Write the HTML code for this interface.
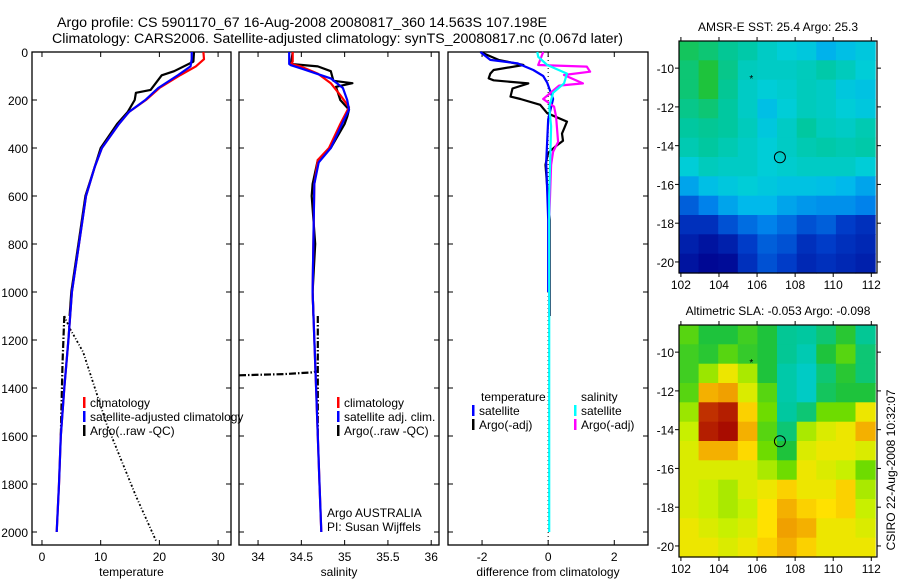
<!DOCTYPE html>
<html><head><meta charset="utf-8"><style>
body{margin:0;background:#fff;width:900px;height:580px;overflow:hidden}
svg{display:block;font-family:"Liberation Sans",sans-serif}
</style></head><body>
<svg id="c" width="900" height="580" viewBox="0 0 900 580">
<text x="57" y="27" font-size="13.5" textLength="490" lengthAdjust="spacingAndGlyphs">Argo profile: CS 5901170_67 16-Aug-2008 20080817_360 14.563S 107.198E</text>
<text x="52" y="43" font-size="13.5" textLength="571" lengthAdjust="spacingAndGlyphs">Climatology: CARS2006. Satellite-adjusted climatology: synTS_20080817.nc (0.067d later)</text>
</svg>
<script>
// ---- data ----
const tDepth=[0,30,60,96,150,200,250,300,400,478,600,800,1000,1200,1400,1600,1800,2000];
const tClim=[27.5,27.6,26.2,23.6,20,17.7,14.8,13.1,10.2,9.0,7.5,6.3,5.1,4.5,3.8,3.2,2.9,2.5];
const tSat=[25.5,25.5,25.3,23.2,19.8,17.6,14.8,13.1,10.2,9.0,7.5,6.3,5.1,4.5,3.8,3.2,2.9,2.5];
const tArgoDepth=[0,40,80,97,158,170,200,250,300,400,478,600,800,1000,1100];
const tArgo=[25.9,25.8,22.5,20.4,18.5,16,15.8,14.6,12.8,10.0,9.0,7.4,6.2,5.0,4.7];
const tRawDepth=[1100,1300,1600];
const tRaw=[3.8,3.5,3.2];
const tRaw2Depth=[1100,1150,1250,1550,1850,2040];
const tRaw2=[3.8,4.7,7,11,16,19.5];

const sDepth=[0,40,50,60,90,130,180,230,300,400,450,550,1000,1400,1800,2000];
const sClim=[34.40,34.40,34.38,34.49,34.69,34.84,34.95,35.05,34.95,34.82,34.69,34.65,34.63,34.67,34.71,34.73];
const sSatDepth=[0,50,55,70,110,150,200,240,300,400,460,550,1000,1400,1800,2000];
const sSat=[34.36,34.36,34.38,34.51,34.84,34.98,35.03,35.05,34.97,34.84,34.70,34.65,34.63,34.67,34.71,34.73];
const sArgoDepth=[0,50,60,80,120,130,145,200,220,240,270,300,350,400,450,550,600,800,1000,1100];
const sArgo=[34.40,34.38,34.69,34.84,34.87,35.09,34.90,34.95,35.0,35.05,35.03,35.0,34.92,34.84,34.69,34.63,34.62,34.66,34.63,34.64];
const sRawDepth=[1100,1600];
const sRaw=[34.69,34.69];
const sRaw2Depth=[1347,1342,1335,1330];
const sRaw2=[33.78,34.3,34.62,34.69];

const dTSatDepth=[0,33,47,75,100,128,196,280,460,700,1000];
const dTSat=[-2.05,-1.75,-0.93,-0.45,-0.15,-0.03,0.15,0,-0.06,0,0];
const dTArgoDepth=[0,33,54,75,90,110,118,131,152,186,196,220,255,290,340,370,395,420,470,700,1100];
const dTArgo=[-2.05,-1.5,-0.75,-1.65,-1.75,-1.8,-1.65,-0.6,-1.08,-1.14,-0.84,-0.24,-0.03,0.57,0.42,0.45,0.21,0,-0.08,0.05,0.05];
const dSSatDepth=[0,20,54,90,131,170,228,310,600,2000];
const dSSat=[-0.33,-0.3,-0.03,0.57,0.48,0.15,0.03,0.09,0.03,0.03];
const dSArgoDepth=[0,54,61,82,96,131,140,196,228,270,375,416,470,700,1100];
const dSArgo=[-0.15,-0.3,1.17,1.27,0.48,1.05,0.33,-0.15,0.18,0.24,0.3,0.15,0.09,0.03,0.03];

const depthTicks=[0,200,400,600,800,1000,1200,1400,1600,1800,2000];
const tTicks=[0,10,20,30];
const sTicks=[34,34.5,35,35.5,36];
const dTicks=[-2,0,2];
const lonTicks=[102,104,106,108,110,112];
const latTicks=[-10,-12,-14,-16,-18,-20];

const sstGrid=[
[0.52,0.5,0.47,0.45,0.42,0.4,0.38,0.32,0.35,0.38],
[0.5,0.55,0.48,0.43,0.42,0.42,0.43,0.45,0.43,0.40],
[0.5,0.55,0.47,0.42,0.4,0.41,0.43,0.42,0.38,0.36],
[0.48,0.5,0.46,0.42,0.35,0.4,0.43,0.42,0.4,0.38],
[0.46,0.47,0.46,0.43,0.38,0.42,0.46,0.43,0.42,0.44],
[0.44,0.46,0.44,0.42,0.4,0.42,0.44,0.45,0.44,0.45],
[0.4,0.43,0.42,0.42,0.4,0.41,0.42,0.42,0.42,0.4],
[0.3,0.35,0.38,0.4,0.38,0.36,0.36,0.35,0.33,0.3],
[0.2,0.25,0.3,0.33,0.33,0.3,0.28,0.27,0.27,0.25],
[0.12,0.12,0.18,0.22,0.25,0.22,0.18,0.2,0.15,0.12],
[0.08,0.05,0.08,0.15,0.2,0.18,0.12,0.15,0.12,0.1],
[0.05,0.02,0.03,0.12,0.18,0.15,0.1,0.12,0.1,0.08]];
const slaGrid=[
[0.6,0.55,0.55,0.58,0.55,0.47,0.46,0.5,0.56,0.47],
[0.58,0.56,0.6,0.57,0.55,0.47,0.44,0.55,0.6,0.5],
[0.58,0.65,0.72,0.66,0.55,0.45,0.42,0.5,0.56,0.5],
[0.6,0.8,0.82,0.7,0.6,0.45,0.42,0.52,0.55,0.55],
[0.65,0.92,0.95,0.76,0.62,0.46,0.5,0.62,0.62,0.72],
[0.68,0.95,0.98,0.8,0.6,0.5,0.66,0.7,0.72,0.8],
[0.7,0.8,0.8,0.75,0.62,0.55,0.7,0.72,0.72,0.7],
[0.7,0.7,0.7,0.7,0.66,0.62,0.72,0.7,0.68,0.62],
[0.7,0.68,0.66,0.7,0.72,0.76,0.72,0.72,0.76,0.66],
[0.7,0.68,0.66,0.68,0.74,0.8,0.76,0.74,0.76,0.68],
[0.72,0.7,0.68,0.7,0.74,0.82,0.8,0.72,0.72,0.7],
[0.72,0.72,0.7,0.72,0.76,0.8,0.76,0.72,0.72,0.72]];
const argoLon=107.2, argoLat=-14.6, prevLon=105.7, prevLat=-10.5;

// ---- drawing ----
const svg=document.getElementById('c');
const NS='http://www.w3.org/2000/svg';
function mk(tag,attrs,parent){const e=document.createElementNS(NS,tag);for(const k in attrs)e.setAttribute(k,attrs[k]);(parent||svg).appendChild(e);return e;}
function txt(x,y,s,attrs,name){const e=mk('text',Object.assign({x:x,y:y,'font-size':12},attrs||{}));e.textContent=s;


return e;}

const Y0=52, PY=0.24, YB=545;
const yD=d=>Y0+d*PY;
function panel(name,x0,x1,vmin,vmax,ticks,fmt,xlabel){
  const sx=v=>x0+(v-vmin)/(vmax-vmin)*(x1-x0);
  const g=mk('g',{});
  
  
  const r=mk('rect',{x:x0,y:Y0,width:x1-x0,height:YB-Y0,fill:'none',stroke:'#000','stroke-width':1.3},g);
  
  
  depthTicks.forEach(d=>{
    mk('line',{x1:x0,x2:x0+5,y1:yD(d),y2:yD(d),stroke:'#000'},g);
    mk('line',{x1:x1-5,x2:x1,y1:yD(d),y2:yD(d),stroke:'#000'},g);
  });
  ticks.forEach(v=>{
    mk('line',{x1:sx(v),x2:sx(v),y1:YB,y2:YB-5,stroke:'#000'},g);
    mk('line',{x1:sx(v),x2:sx(v),y1:Y0,y2:Y0+5,stroke:'#000'},g);
    txt(sx(v),561,fmt(v),{'text-anchor':'middle'},name+'-x-tick-label');
  });
  txt((x0+x1)/2,576,xlabel,{'text-anchor':'middle'},name+'-x-axis-title');
  return {sx,g};
}
function line(p,vals,deps,color,w,name,dash){
  const pts=vals.map((v,i)=>p.sx(v).toFixed(1)+','+yD(deps[i]).toFixed(1)).join(' ');
  const a={points:pts,fill:'none',stroke:color,'stroke-width':w,'stroke-linejoin':'round'};
  if(dash)a['stroke-dasharray']=dash;
  const e=mk('polyline',a,p.g);
  
  
}
function legend(x,y,color,label,name){
  const m=mk('rect',{x:x,y:y-10,width:2.5,height:11,fill:color});
  
  
  txt(x+7,y,label,{},name);
}

depthTicks.forEach(d=>txt(28,yD(d)+5,String(d),{'text-anchor':'end'},'depth-tick-label'));

const pT=panel('temperature-panel',32,231,-1.7,32.2,tTicks,v=>String(v),'temperature');
line(pT,tRaw2,tRaw2Depth,'#000',1.8,'temp-argo-raw-diagonal','2,2,1,2');
line(pT,tRaw,tRawDepth,'#000',2.2,'temp-argo-raw','7,2,1.5,2');
line(pT,tArgo,tArgoDepth,'#000',2.2,'temp-argo-line');
line(pT,tClim,tDepth,'#f00',2.2,'temp-climatology-line');
line(pT,tSat,tDepth,'#00f',2.2,'temp-satellite-line');
legend(83,407,'#f00','climatology','legend-climatology');
legend(83,421,'#00f','satellite-adjusted climatology','legend-satellite-adjusted');
legend(83,435,'#000','Argo(..raw -QC)','legend-argo');

const pS=panel('salinity-panel',239,439,33.78,36.09,sTicks,v=>String(v),'salinity');
line(pS,sRaw2,sRaw2Depth,'#000',2.2,'sal-argo-raw-horizontal','7,2,1.5,2');
line(pS,sRaw,sRawDepth,'#000',2.2,'sal-argo-raw','7,2,1.5,2');
line(pS,sArgo,sArgoDepth,'#000',2.2,'sal-argo-line');
line(pS,sClim,sDepth,'#f00',2.2,'sal-climatology-line');
line(pS,sSat,sSatDepth,'#00f',2.2,'sal-satellite-line');
legend(337,407,'#f00','climatology','legend-sal-climatology');
legend(337,421,'#00f','satellite adj. clim.','legend-sal-satellite');
legend(337,435,'#000','Argo(..raw -QC)','legend-sal-argo');
txt(327,517,'Argo AUSTRALIA',{},'argo-australia-label');
txt(327,531,'PI: Susan Wijffels',{},'pi-label');

const pD=panel('difference-panel',448,648,-3.03,3.02,dTicks,v=>String(v),'difference from climatology');
mk('line',{x1:pD.sx(0),x2:pD.sx(0),y1:Y0,y2:YB,stroke:'#000','stroke-dasharray':'1,3'},pD.g);
line(pD,dTArgo,dTArgoDepth,'#000',2.2,'diff-temp-argo-line');
line(pD,dTSat,dTSatDepth,'#00f',2.2,'diff-temp-satellite-line');
line(pD,dSArgo,dSArgoDepth,'#f0f',2.2,'diff-sal-argo-line');
line(pD,dSSat,dSSatDepth,'#0ff',2.2,'diff-sal-satellite-line');
txt(481,401,'temperature',{},'legend-temperature-heading');
legend(472,415,'#00f','satellite','legend-diff-temp-satellite');
legend(472,429,'#000','Argo(-adj)','legend-diff-temp-argo');
txt(581,401,'salinity',{},'legend-salinity-heading');
legend(574,415,'#0ff','satellite','legend-diff-sal-satellite');
legend(574,429,'#f0f','Argo(-adj)','legend-diff-sal-argo');

const stops=[[0,[0,0,140]],[0.15,[0,60,200]],[0.25,[0,130,235]],[0.33,[0,185,235]],[0.4,[0,205,215]],[0.46,[0,200,160]],[0.55,[30,195,60]],[0.62,[110,220,0]],[0.68,[200,240,0]],[0.74,[255,225,0]],[0.82,[240,160,0]],[0.9,[200,60,0]],[1,[160,0,0]]];
function cmap(v){for(let i=1;i<stops.length;i++){if(v<=stops[i][0]){const a=stops[i-1],b=stops[i],t=(v-a[0])/(b[0]-a[0]);return 'rgb('+a[1].map((c,k)=>Math.round(c+(b[1][k]-c)*t)).join(',')+')';}}return 'rgb(160,0,0)';}

function mapPanel(name,top,bottom,latTop,grid,title){
  const L=679,R=877,lonMin=101.9,lonMax=112.3;
  const latBot=-20.57;
  const sx=lon=>L+(lon-lonMin)/(lonMax-lonMin)*(R-L);
  const sy=lat=>top+(latTop-lat)/(latTop-latBot)*(bottom-top);
  const g=mk('g',{});
  
  
  const nr=grid.length,nc=grid[0].length;
  const cw=(112.2-lonMin)/nc, ch=(latTop-latBot)/nr;
  grid.forEach((row,i)=>row.forEach((v,j)=>{
    const x=sx(lonMin+j*cw), y=sy(latTop-i*ch);
    const c=mk('rect',{x:x.toFixed(1),y:y.toFixed(1),width:(sx(lonMin+(j+1)*cw)-x+0.6).toFixed(1),height:(sy(latTop-(i+1)*ch)-y+0.6).toFixed(1),fill:cmap(v)},g);
    
    
  }));
  const fr=mk('rect',{x:L,y:top,width:R-L,height:bottom-top,fill:'none',stroke:'#000','stroke-width':1.2},g);
  
  
  lonTicks.forEach(l=>{
    mk('line',{x1:sx(l),x2:sx(l),y1:bottom,y2:bottom+4,stroke:'#000'},g);
    mk('line',{x1:sx(l),x2:sx(l),y1:top,y2:top-4,stroke:'#000'},g);
    txt(sx(l),bottom+16,String(l),{'text-anchor':'middle'},name+'-lon-tick-label');
  });
  latTicks.forEach(l=>{
    mk('line',{x1:L,x2:L-4,y1:sy(l),y2:sy(l),stroke:'#000'},g);
    mk('line',{x1:R,x2:R+4,y1:sy(l),y2:sy(l),stroke:'#000'},g);
    txt(L-5,sy(l)+5,String(l),{'text-anchor':'end'},name+'-lat-tick-label');
  });
  const ci=mk('circle',{cx:sx(argoLon),cy:sy(argoLat),r:5.5,fill:'none',stroke:'#000','stroke-width':1},g);
  
  
  const st=mk('text',{x:sx(prevLon),y:sy(prevLat)+4,'font-size':10,'text-anchor':'middle'},g);
  st.textContent='*';
  
  
  txt((L+R)/2,top-10,title,{'text-anchor':'middle'},name+'-title');
}
mapPanel('sst-map',41,273,-8.6,sstGrid,'AMSR-E SST: 25.4 Argo: 25.3');
mapPanel('sla-map',325,557,-8.6,slaGrid,'Altimetric SLA: -0.053 Argo: -0.098');
txt(0,0,'CSIRO 22-Aug-2008 10:32:07',{'text-anchor':'middle',transform:'translate(895,470) rotate(-90)'},'timestamp-label');
</script>
</body></html>
